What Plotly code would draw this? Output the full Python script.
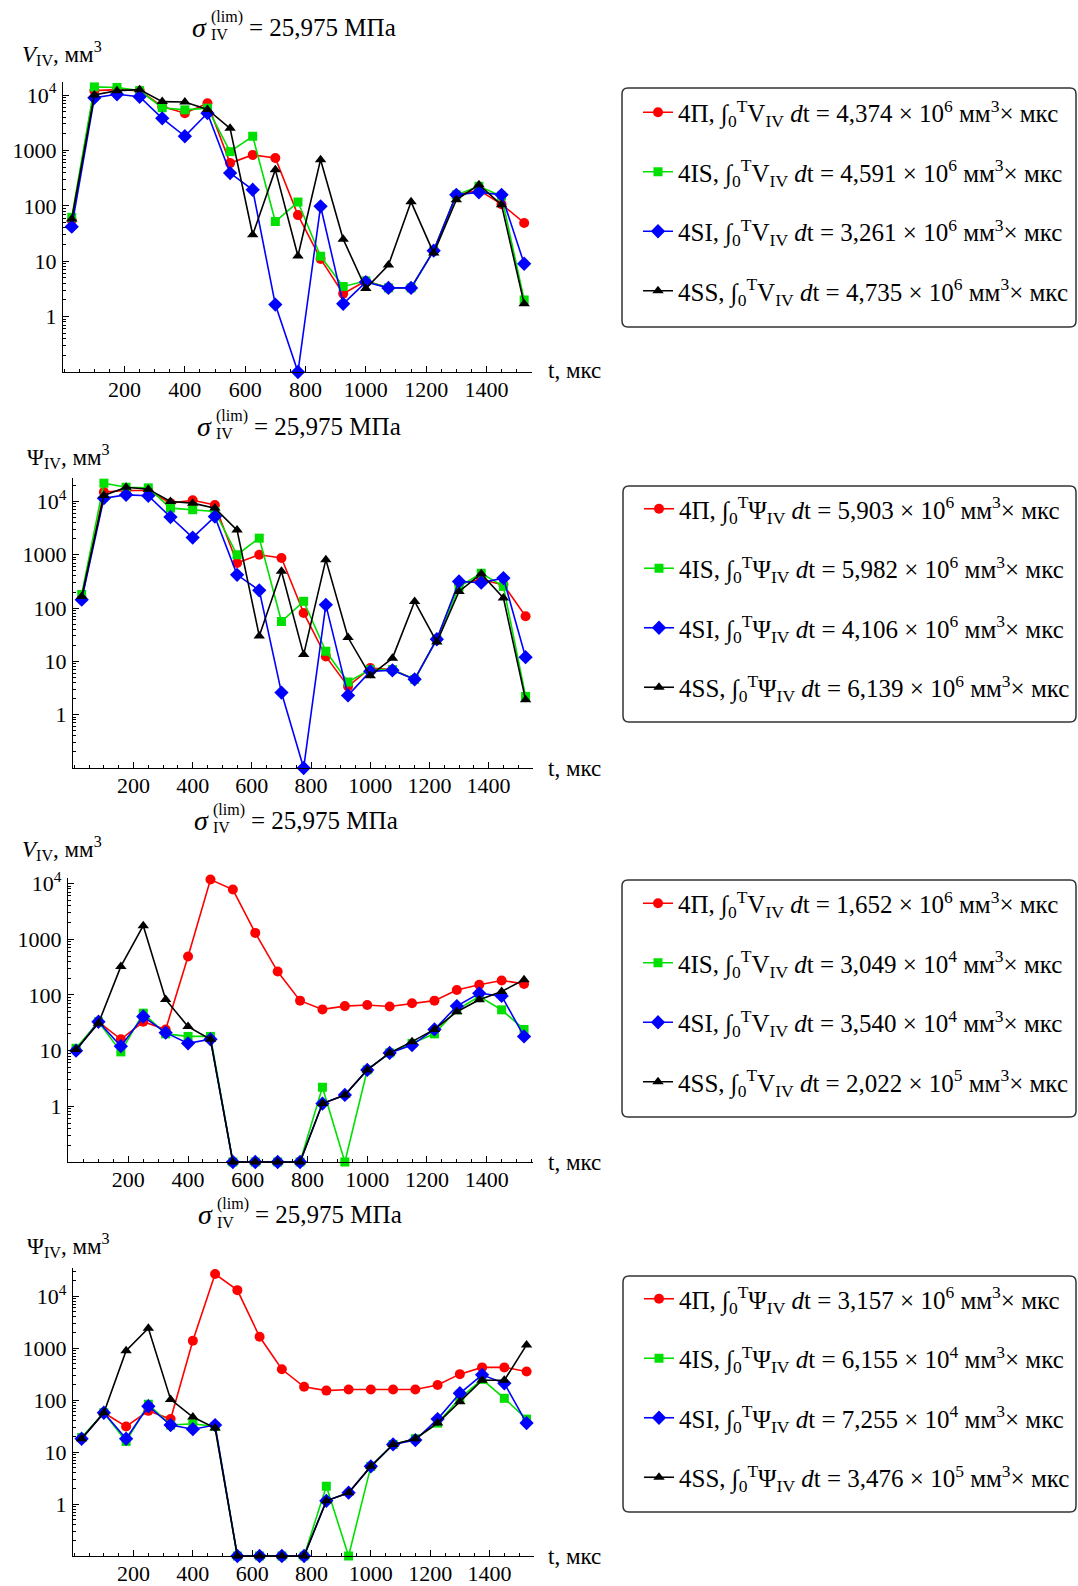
import plotly.graph_objects as go

# ---------------- data ----------------
t = [25, 100, 175, 250, 325, 400, 475, 550, 625, 700, 775, 850, 925, 1000, 1075, 1150, 1225, 1300, 1375, 1450, 1525]

series_names = ["4П", "4IS", "4SI", "4SS"]

# Panel 1: V_IV
p1_red   = [55, 12000, 12500, 12000, 6200, 4700, 7100, 590, 830, 730, 68, 11, 2.6, 4.4, 3.3, 3.3, 15.5, 158, 190, 107, 49]
p1_green = [62, 14000, 13700, 12000, 5900, 5400, 5800, 950, 1800, 52, 117, 12.3, 3.5, 4.4, 3.3, 3.3, 15.5, 158, 225, 150, 2.0]
p1_blue  = [42, 8900, 10300, 9300, 3800, 1800, 4700, 390, 195, 1.65, 0.1, 98, 1.7, 4.2, 3.3, 3.3, 15.5, 158, 175, 158, 9]
p1_black = [58, 10000, 12000, 12500, 7600, 7500, 5500, 2500, 30, 450, 12.4, 680, 25, 3.2, 8.5, 118, 14, 128, 240, 104, 1.7]

# Panel 2: Psi_IV
p2_red   = [150, 15000, 16000, 16000, 9300, 10500, 8600, 700, 1000, 870, 81, 12.4, 3.4, 7.5, 7, 4.6, 26, 290, 340, 275, 70]
p2_green = [180, 22000, 18500, 18000, 7500, 7000, 6500, 1000, 2050, 56, 134, 15.5, 4.1, 7, 7, 4.6, 26, 250, 450, 255, 2.2]
p2_blue  = [144, 11500, 13300, 12800, 5100, 2100, 5200, 420, 215, 2.6, 0.1, 115, 2.3, 6.5, 6.8, 4.6, 26, 315, 300, 365, 12]
p2_black = [165, 13000, 18500, 17000, 10000, 9300, 7500, 2900, 30, 490, 13.4, 810, 28, 5.4, 11.5, 133, 23, 205, 440, 155, 1.9]

# Panel 3: V_IV
p3_red   = [10.5, 33, 16, 33, 24, 490, 11800, 7800, 1300, 263, 79, 55, 63, 66, 62, 71, 79, 123, 152, 182, 158]
p3_green = [11, 33, 9.5, 47, 20, 18, 18, 0.1, 0.1, 0.1, 0.1, 2.2, 0.1, 4.5, 9.1, 13.5, 20, 54, 94, 54, 24]
p3_blue  = [10, 33, 12, 41, 21, 13.5, 16, 0.1, 0.1, 0.1, 0.1, 1.12, 1.6, 4.5, 9.1, 12.6, 24, 63, 107, 96, 18]
p3_black = [10.5, 31, 325, 1750, 83, 27, 16, 0.1, 0.1, 0.1, 0.1, 1.12, 1.6, 4.5, 9.1, 14.5, 24, 50, 82, 115, 187]

# Panel 4: Psi_IV
p4_red   = [18, 57, 31, 62, 43, 1380, 26500, 13000, 1650, 390, 180, 152, 160, 160, 160, 160, 195, 315, 425, 425, 355]
p4_green = [19, 57, 16, 83, 33, 35, 31, 0.1, 0.1, 0.1, 0.1, 2.2, 0.1, 5.3, 14, 18, 36, 108, 250, 108, 43]
p4_blue  = [18, 57, 18, 76, 33, 27.5, 33, 0.1, 0.1, 0.1, 0.1, 1.15, 1.65, 5.3, 14, 17, 43, 135, 305, 210, 36]
p4_black = [18, 57, 890, 2400, 103, 47, 29, 0.1, 0.1, 0.1, 0.1, 1.15, 1.65, 5.3, 14, 18, 36, 93, 240, 240, 1150]

# integral values (mantissa, exponent) per panel
p1_int_mant = ["4,374", "4,591", "3,261", "4,735"]
p1_int_exp  = [6, 6, 6, 6]
p2_int_mant = ["5,903", "5,982", "4,106", "6,139"]
p2_int_exp  = [6, 6, 6, 6]
p3_int_mant = ["1,652", "3,049", "3,540", "2,022"]
p3_int_exp  = [6, 4, 4, 5]
p4_int_mant = ["3,157", "6,155", "7,255", "3,476"]
p4_int_exp  = [6, 4, 4, 5]

panel_symbols = ["V", "Ψ", "V", "Ψ"]
x_tick_vals = [200, 400, 600, 800, 1000, 1200, 1400]
y_tick_vals = [1, 10, 100, 1000, 10000]
y_tick_text = ["1", "10", "100", "1000", "10<sup>4</sup>"]
title_value = "25,975 МПа"

# ---------------- layout helpers ----------------
W, H = 1078, 1586
FONT = "Liberation Serif"


def fx(x):
    return x / W


def fy(y):
    return 1 - y / H


panel_data = [
    [p1_red, p1_green, p1_blue, p1_black],
    [p2_red, p2_green, p2_blue, p2_black],
    [p3_red, p3_green, p3_blue, p3_black],
    [p4_red, p4_green, p4_blue, p4_black],
]
panel_ints = [
    (p1_int_mant, p1_int_exp),
    (p2_int_mant, p2_int_exp),
    (p3_int_mant, p3_int_exp),
    (p4_int_mant, p4_int_exp),
]

# geometry (pixels)
geo = [
    dict(xl=63, xr=532, xr0=-4, xr1=1551, top=82, bot=372, ymax=4.235, title_y=27, sig_x=208,
         ylab_y=54, ylab_x=20, tlab_y=370, box=(622, 88, 1076, 327)),
    dict(xl=73, xr=533, xr0=-4.4, xr1=1550, top=478, bot=768, ymax=4.44, title_y=426, sig_x=213,
         ylab_y=456, ylab_x=25, tlab_y=768, box=(623, 486, 1076, 722)),
    dict(xl=68, xr=533, xr0=-2, xr1=1555, top=878, bot=1162, ymax=4.1, title_y=820, sig_x=210,
         ylab_y=848, ylab_x=20, tlab_y=1162, box=(622, 880, 1076, 1117)),
    dict(xl=73, xr=534, xr0=-4, xr1=1550, top=1268, bot=1556, ymax=4.54, title_y=1214, sig_x=214,
         ylab_y=1245, ylab_x=25, tlab_y=1556, box=(623, 1276, 1076, 1512)),
]

colors = ["#ff0000", "#00e000", "#0000ff", "#000000"]
symbols = ["circle", "square", "diamond", "triangle-up"]
msizes = [10, 9, 11, 10]

minor_log = [m * 10 ** e for e in range(-1, 5) for m in range(2, 10)]

fig = go.Figure()
annotations = []
shapes = []
layout_kw = {}

for p in range(4):
    g = geo[p]
    ax = "" if p == 0 else str(p + 1)
    leg = "legend" if p == 0 else f"legend{p + 1}"
    mant, expo = panel_ints[p]
    sym = panel_symbols[p]
    for s in range(4):
        name = (f"{series_names[s]}, ∫<sub>0</sub><sup>T</sup>{sym}<sub>IV</sub> <i>d</i>t = "
                f"{mant[s]} × 10<sup>{expo[s]}</sup> мм<sup>3</sup>× мкс")
        fig.add_trace(go.Scatter(
            x=t, y=panel_data[p][s], mode="lines+markers",
            line=dict(color=colors[s], width=1.6),
            marker=dict(symbol=symbols[s], size=msizes[s], color=colors[s]),
            name=name, xaxis="x" + ax, yaxis="y" + ax,
            legend=leg, legendgroup=f"p{p}s{s}", cliponaxis=False,
        ))

    layout_kw["xaxis" + ax] = dict(
        domain=[fx(g["xl"]), fx(g["xr"])], range=[g["xr0"], g["xr1"]],
        anchor="y" + ax, showline=True, linecolor="black", linewidth=1.2,
        ticks="inside", ticklen=6, tickcolor="black", tickwidth=1,
        tickmode="array", tickvals=x_tick_vals,
        minor=dict(ticks="inside", ticklen=3, dtick=50, tick0=0, tickcolor="black"),
        showgrid=False, zeroline=False, automargin=False, ticklabelstandoff=-3,
        tickfont=dict(family=FONT, size=22, color="black"),
    )
    layout_kw["yaxis" + ax] = dict(
        domain=[fy(g["bot"]), fy(g["top"])], type="log", range=[-1, g["ymax"]],
        anchor="x" + ax, showline=True, linecolor="black", linewidth=1.2,
        ticks="inside", ticklen=6, tickcolor="black", tickwidth=1,
        tickmode="array", tickvals=y_tick_vals, ticktext=y_tick_text,
        minor=dict(ticks="inside", ticklen=3, tickvals=minor_log, tickcolor="black"),
        showgrid=False, zeroline=False, ticklabelstandoff=1, automargin=False,
        tickfont=dict(family=FONT, size=22, color="black"),
    )

    bx0, by0, bx1, by1 = g["box"]
    layout_kw[leg] = dict(
        x=fx(bx0 + 16), y=fy((by0 + by1) / 2 - 6), xanchor="left", yanchor="middle",
        xref="paper", yref="paper", bgcolor="rgba(0,0,0,0)", borderwidth=0,
        font=dict(family=FONT, size=25, color="black"), tracegroupgap=24,
        itemwidth=30,
    )

    # legend rounded frame
    r = 6
    X0, X1 = fx(bx0), fx(bx1)
    Y0, Y1 = fy(by1), fy(by0)
    rx, ry = r / W, r / H
    path = (f"M {X0 + rx},{Y1} L {X1 - rx},{Y1} Q {X1},{Y1} {X1},{Y1 - ry} "
            f"L {X1},{Y0 + ry} Q {X1},{Y0} {X1 - rx},{Y0} L {X0 + rx},{Y0} "
            f"Q {X0},{Y0} {X0},{Y0 + ry} L {X0},{Y1 - ry} Q {X0},{Y1} {X0 + rx},{Y1} Z")
    shapes.append(dict(type="path", path=path, xref="paper", yref="paper",
                       line=dict(color="#333333", width=1.5)))

    # title: sigma with stacked sup/sub
    annotations.append(dict(text="<i>σ</i>", x=fx(g["sig_x"] + 1), y=fy(g["title_y"]), xref="paper", yref="paper",
                            xanchor="right", yanchor="middle", showarrow=False,
                            font=dict(family=FONT, size=28, color="black")))
    annotations.append(dict(text="(lim)", x=fx(g["sig_x"] + 1), y=fy(g["title_y"] - 10), xref="paper", yref="paper",
                            xanchor="left", yanchor="middle", showarrow=False,
                            font=dict(family=FONT, size=16, color="black")))
    annotations.append(dict(text="IV", x=fx(g["sig_x"] + 1), y=fy(g["title_y"] + 8), xref="paper", yref="paper",
                            xanchor="left", yanchor="middle", showarrow=False,
                            font=dict(family=FONT, size=16, color="black")))
    annotations.append(dict(text="= " + title_value, x=fx(g["sig_x"] + 39), y=fy(g["title_y"]), xref="paper",
                            yref="paper", xanchor="left", yanchor="middle", showarrow=False,
                            font=dict(family=FONT, size=25, color="black")))
    # y label
    ylab = ("<i>V</i>" if sym == "V" else "Ψ") + "<sub>IV</sub>, мм<sup>3</sup>"
    annotations.append(dict(text=ylab, x=fx(g["ylab_x"]), y=fy(g["ylab_y"]), xref="paper", yref="paper",
                            xanchor="left", yanchor="middle", showarrow=False,
                            font=dict(family=FONT, size=23, color="black")))
    # x label
    annotations.append(dict(text="t, мкс", x=fx(546), y=fy(g["tlab_y"]), xref="paper", yref="paper",
                            xanchor="left", yanchor="middle", showarrow=False,
                            font=dict(family=FONT, size=23, color="black")))

fig.update_layout(
    width=W, height=H, margin=dict(l=0, r=0, t=0, b=0, pad=0, autoexpand=False),
    paper_bgcolor="white", plot_bgcolor="white",
    annotations=annotations, shapes=shapes, showlegend=True,
    font=dict(family=FONT, color="black"),
    **layout_kw,
)

fig.write_html(
    "out.html",
    config={"displayModeBar": False},
    post_script=(
        "document.documentElement.style.margin='0';document.documentElement.style.padding='0';"
        "document.documentElement.style.overflow='hidden';"
        "document.body.style.margin='0';document.body.style.padding='0';"
        "document.body.style.overflow='hidden';"
        "var gd=document.getElementById('{plot_id}');"
        "gd.style.position='absolute';gd.style.top='0px';gd.style.left='0px';"
    ),
)
